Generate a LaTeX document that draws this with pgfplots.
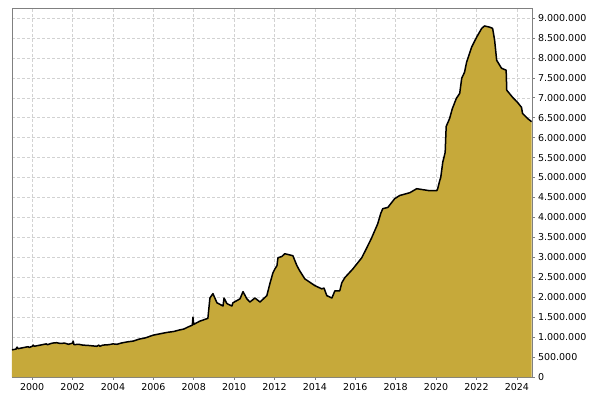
\documentclass[border=0pt]{standalone}
\usepackage{pgfplots}
\usepackage{pgfplotstable}
\pgfplotsset{compat=1.18}
\usepackage{fontspec}
\setmainfont{DejaVu Sans}
\definecolor{gold}{RGB}{198,169,58}
\pgfplotstableread{
year val
1999.00 0.68
1999.20 0.70
1999.25 0.75
1999.30 0.71
1999.60 0.74
1999.80 0.76
1999.85 0.74
2000.00 0.77
2000.05 0.80
2000.10 0.77
2000.30 0.79
2000.50 0.81
2000.70 0.83
2000.75 0.81
2001.00 0.85
2001.20 0.86
2001.40 0.84
2001.60 0.85
2001.80 0.82
2002.00 0.85
2002.03 0.90
2002.07 0.81
2002.30 0.82
2002.50 0.80
2002.80 0.79
2003.00 0.78
2003.20 0.77
2003.30 0.80
2003.35 0.77
2003.50 0.80
2003.80 0.81
2004.00 0.83
2004.20 0.82
2004.40 0.85
2004.70 0.88
2005.00 0.90
2005.30 0.95
2005.60 0.98
2006.00 1.05
2006.30 1.08
2006.70 1.12
2007.00 1.14
2007.30 1.18
2007.50 1.20
2007.70 1.25
2007.93 1.30
2007.96 1.50
2008.00 1.32
2008.30 1.40
2008.70 1.47
2008.80 1.98
2008.95 2.09
2009.15 1.86
2009.45 1.78
2009.50 1.98
2009.64 1.84
2009.89 1.78
2009.94 1.86
2010.29 1.96
2010.44 2.14
2010.63 1.96
2010.78 1.88
2011.03 1.98
2011.28 1.88
2011.62 2.04
2011.77 2.34
2011.92 2.61
2012.02 2.71
2012.12 2.79
2012.17 2.99
2012.36 3.02
2012.51 3.09
2012.91 3.04
2013.11 2.79
2013.25 2.66
2013.50 2.46
2014.00 2.29
2014.34 2.21
2014.45 2.23
2014.59 2.04
2014.84 1.98
2014.99 2.16
2015.23 2.16
2015.33 2.36
2015.48 2.49
2015.88 2.71
2016.32 2.99
2016.57 3.24
2016.81 3.49
2017.11 3.84
2017.26 4.10
2017.36 4.22
2017.61 4.25
2017.95 4.47
2018.20 4.55
2018.70 4.62
2019.04 4.72
2019.68 4.67
2020.03 4.67
2020.08 4.72
2020.18 4.92
2020.23 5.00
2020.33 5.38
2020.45 5.63
2020.50 6.28
2020.67 6.48
2020.80 6.72
2021.00 6.98
2021.17 7.11
2021.27 7.49
2021.41 7.64
2021.51 7.89
2021.66 8.12
2021.76 8.27
2022.01 8.52
2022.26 8.74
2022.40 8.80
2022.65 8.77
2022.80 8.74
2022.90 8.44
2023.00 7.94
2023.24 7.74
2023.47 7.69
2023.50 7.19
2023.79 7.01
2024.04 6.88
2024.23 6.76
2024.28 6.61
2024.53 6.48
2024.73 6.40
}\datatable
\begin{document}
\begin{tikzpicture}
\path[use as bounding box] (-12pt,-23pt) rectangle (588pt,377pt);
\begin{axis}[
  at={(0pt,0pt)}, anchor=south west,
  scale only axis, width=520pt, height=369pt,
  xmin=1999, xmax=2024.75, ymin=0, ymax=9.25,
  xtick={2000,2002,...,2024},
  ytick={0,0.5,...,9},
  yticklabels={0,500.000,1.000.000,1.500.000,2.000.000,2.500.000,3.000.000,3.500.000,4.000.000,4.500.000,5.000.000,5.500.000,6.000.000,6.500.000,7.000.000,7.500.000,8.000.000,8.500.000,9.000.000},
  yticklabel pos=right,
  xticklabel style={/pgf/number format/1000 sep={}},
  /pgf/number format/assume math mode=true,
  tick label style={font=\fontsize{9.5}{11}\selectfont, black},
  grid=major,
  grid style={densely dashed, gray!35, line width=0.5pt},
  axis line style={gray, line width=0.8pt},
  tick style={gray, line width=0.6pt},
  tick align=outside,
  major tick length=2.5pt,
  xtick pos=bottom, ytick pos=right,
]
\addplot[fill=gold, draw=none] table[x=year, y=val] {\datatable} \closedcycle;
\addplot[black, line width=1.5pt, line join=round] table[x=year, y=val] {\datatable};
\end{axis}
\end{tikzpicture}
\end{document}
